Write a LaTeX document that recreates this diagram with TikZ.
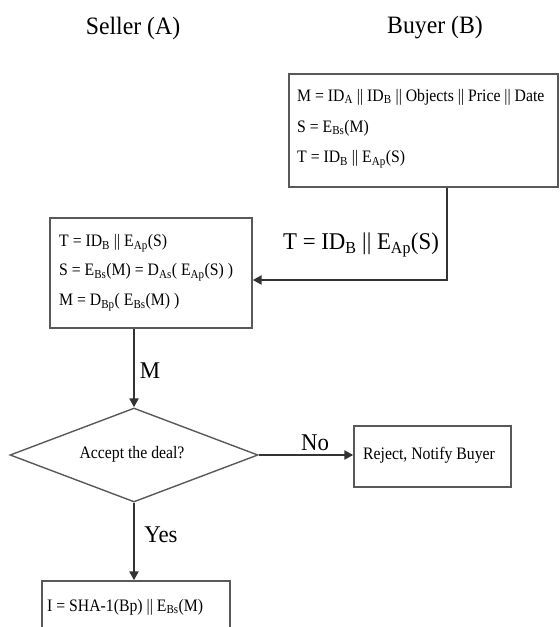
\documentclass[tikz,border=0pt]{standalone}
\usepackage{fontspec}
\setmainfont{Liberation Serif}
\newfontfamily\cond[FakeStretch=0.9]{Liberation Serif}
\newfontfamily\condb[FakeStretch=0.95]{Liberation Serif}
\usetikzlibrary{shapes.geometric,arrows.meta}
\newcommand{\sbs}[1]{\textsubscript{#1}}
\begin{document}
\begin{tikzpicture}[x=1pt,y=-1pt,
  frame/.style={draw=black!65, line width=1.4pt, rectangle, inner sep=0pt},
  boxtext/.style={inner sep=0pt, anchor=west, font=\cond\fontsize{17.5}{22}\selectfont, align=left},
  conn/.style={draw=black!80, line width=2.2pt, -{Triangle[length=9pt,width=9pt]}},
  lbl/.style={inner sep=0pt, font=\condb\fontsize{24}{26}\selectfont},
  head/.style={inner sep=0pt, font=\condb\fontsize{25}{27}\selectfont}]
\useasboundingbox (0,0) rectangle (560,627);
% headers
\node[head] (hA) at (133,28) {Seller (A)};
\node[head] (hB) at (435,28) {Buyer (B)};
% buyer box
\node[frame, minimum width=269pt, minimum height=113pt] (buyer) at (423.5,130.5) {};
\node[boxtext] (bt1) at (297,97) {M = ID\sbs{A} || ID\sbs{B} || Objects || Price || Date};
\node[boxtext] (bt2) at (297,128) {S = E\sbs{Bs}(M)};
\node[boxtext] (bt3) at (297,159) {T = ID\sbs{B} || E\sbs{Ap}(S)};
% seller box
\node[frame, minimum width=202pt, minimum height=110pt] (seller) at (151,273) {};
\node[boxtext] (st1) at (59,243) {T = ID\sbs{B} || E\sbs{Ap}(S)};
\node[boxtext] (st2) at (59,272) {S = E\sbs{Bs}(M) = D\sbs{As}( E\sbs{Ap}(S) )};
\node[boxtext] (st3) at (59,302) {M = D\sbs{Bp}( E\sbs{Bs}(M) )};
% diamond
\node[draw=black!65, line width=1.4pt, diamond, aspect=2.64, inner sep=0pt,
      minimum width=248pt, minimum height=94pt] (dec) at (134,455) {};
\node[boxtext, anchor=center] (dt) at (132,454) {Accept the deal?};
% reject box
\node[frame, minimum width=157pt, minimum height=61pt] (rej) at (432.5,456.5) {};
\node[boxtext] (rt) at (363,455) {Reject, Notify Buyer};
% final box
\node[frame, minimum width=188pt, minimum height=58pt] (fin) at (136,610) {};
\node[boxtext] (ft) at (47,607) {I = SHA-1(Bp) || E\sbs{Bs}(M)};
% connectors
\coordinate (bend) at (447,280);
\draw[conn] (buyer.south -| bend) -- (bend) -- (seller.east |- bend);
\node[lbl] (tl) at (361,245) {T = ID\sbs{B} || E\sbs{Ap}(S)};
\draw[conn] (seller.south -| dec.north) -- (dec.north);
\node[lbl] (ml) at (150,371) {M};
\draw[conn] (dec.east) -- (rej.west |- dec.east);
\node[lbl] (nl) at (315,443) {No};
\draw[conn] (dec.south) -- (fin.north -| dec.south);
\node[lbl] (yl) at (161,535) {Yes};
\end{tikzpicture}
\end{document}
